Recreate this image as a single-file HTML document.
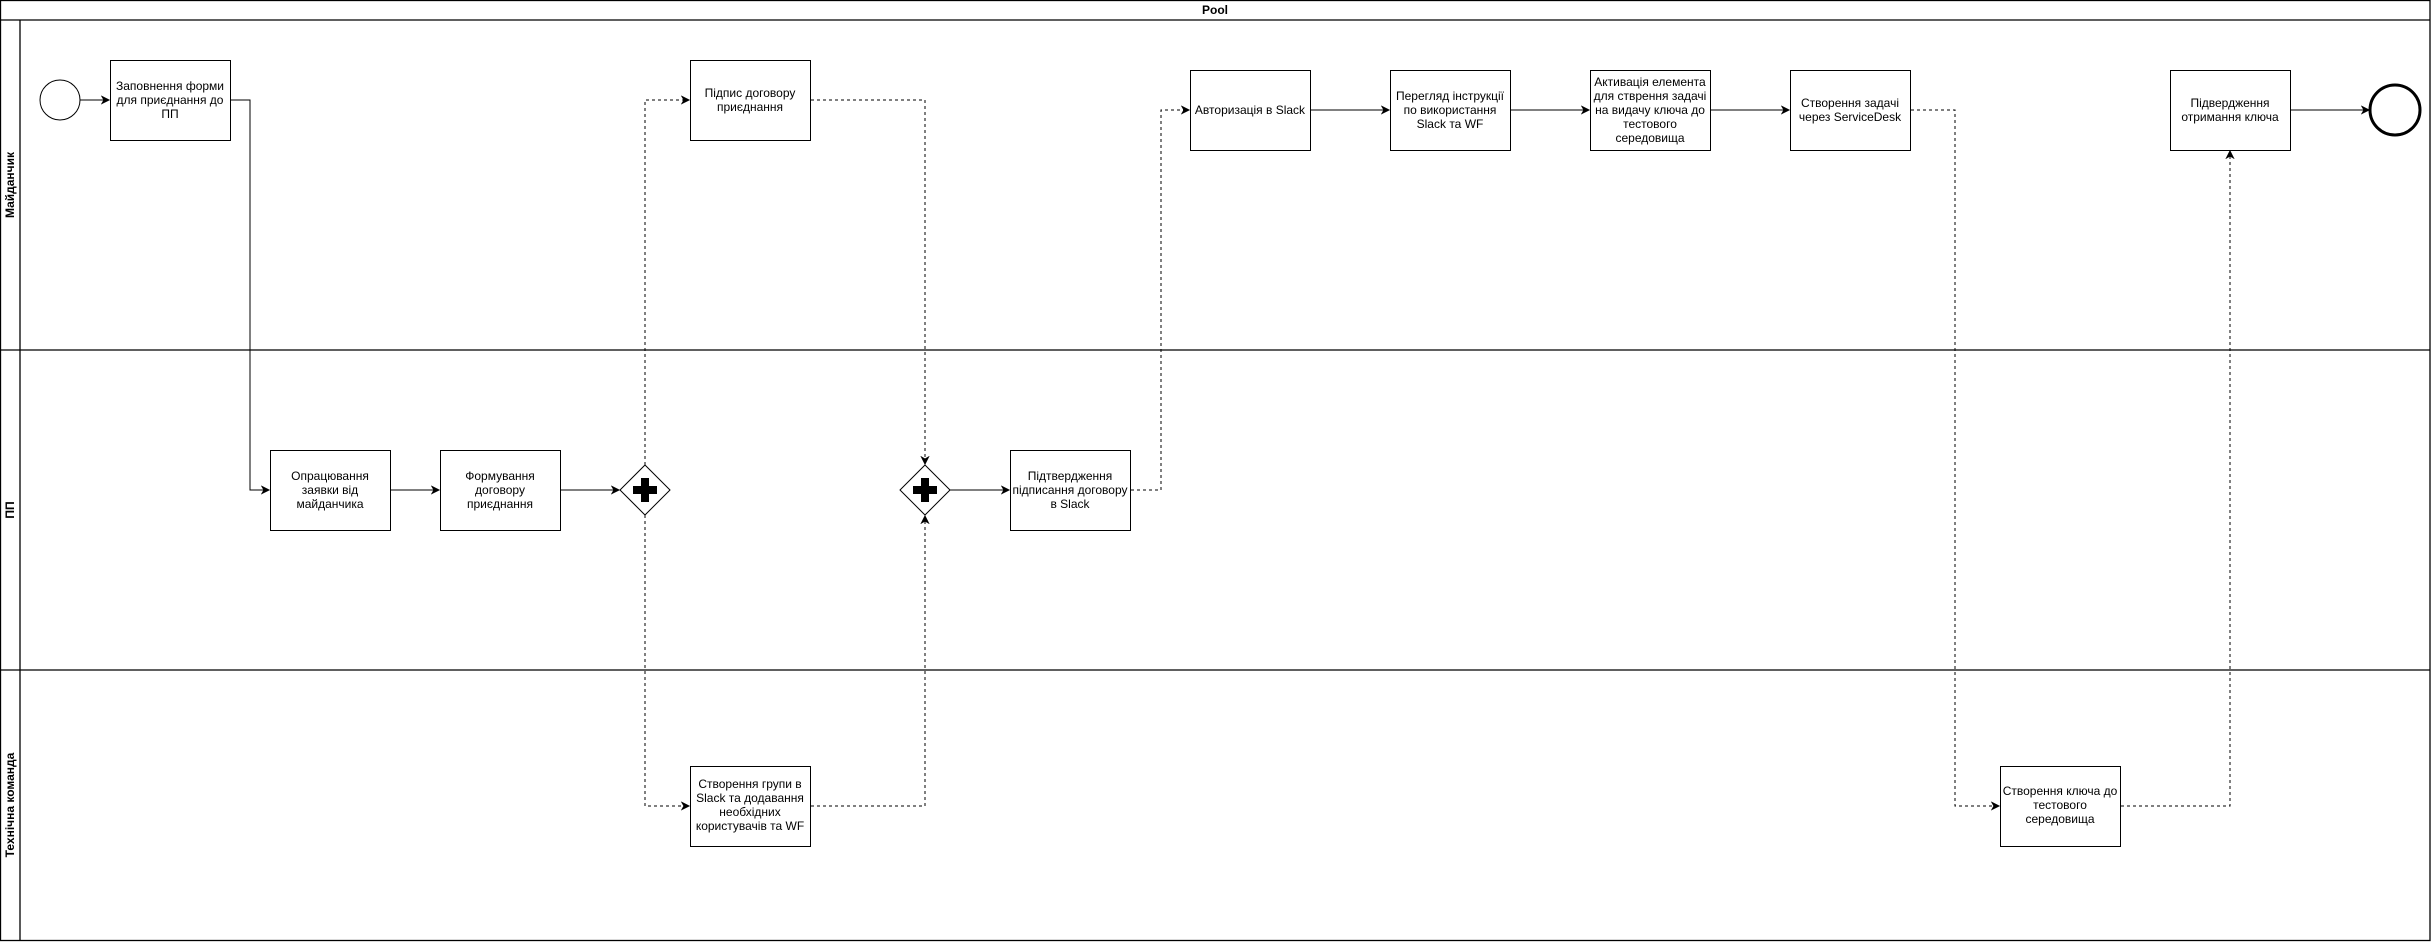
<!DOCTYPE html>
<html><head><meta charset="utf-8"><style>
html,body{margin:0;padding:0;background:#fff;}
svg{display:block;}
text{font-family:"Liberation Sans","Noto Sans CJK SC",sans-serif;font-size:12px;fill:#000;}
</style></head><body>
<svg width="2431" height="942" viewBox="0 0 2431 942" xmlns="http://www.w3.org/2000/svg">
<defs>
<marker id="a" markerWidth="10" markerHeight="10" refX="8" refY="5" orient="auto" markerUnits="userSpaceOnUse">
<path d="M1,1.5 L8,5 L1,8.5 L3,5 Z" fill="#000" stroke="#000" stroke-width="1"/>
</marker>
</defs>
<g fill="none" stroke="#000" stroke-width="1.3">
<rect x="0.5" y="0.5" width="2429.5" height="940"/>
<line x1="0" y1="20" x2="2430" y2="20"/>
<line x1="20" y1="20" x2="20" y2="941"/>
<line x1="0" y1="350" x2="2430" y2="350"/>
<line x1="0" y1="670" x2="2430" y2="670"/>
</g>
<text x="1215" y="14" text-anchor="middle" font-weight="bold">Pool</text>
<text transform="translate(14,185) rotate(-90)" text-anchor="middle" font-weight="bold">Майданчик</text>
<text transform="translate(14,510) rotate(-90)" text-anchor="middle" font-weight="bold">ПП</text>
<text transform="translate(14,805) rotate(-90)" text-anchor="middle" font-weight="bold">Технічна команда</text>

<g fill="#fff" stroke="#000" stroke-width="1">
<circle cx="60" cy="100" r="20"/>
<circle cx="2395" cy="110" r="25" stroke-width="3"/>
<rect x="110.5" y="60.5" width="120" height="80"/>
<rect x="270.5" y="450.5" width="120" height="80"/>
<rect x="440.5" y="450.5" width="120" height="80"/>
<rect x="690.5" y="60.5" width="120" height="80"/>
<rect x="1010.5" y="450.5" width="120" height="80"/>
<rect x="1190.5" y="70.5" width="120" height="80"/>
<rect x="1390.5" y="70.5" width="120" height="80"/>
<rect x="1590.5" y="70.5" width="120" height="80"/>
<rect x="1790.5" y="70.5" width="120" height="80"/>
<rect x="2170.5" y="70.5" width="120" height="80"/>
<rect x="690.5" y="766.5" width="120" height="80"/>
<rect x="2000.5" y="766.5" width="120" height="80"/>
<path d="M645,465 L670,490 L645,515 L620,490 Z"/>
<path d="M925,465 L950,490 L925,515 L900,490 Z"/>
</g>
<g fill="#000">
<rect x="641" y="478" width="8" height="24"/><rect x="633" y="486" width="24" height="8"/>
<rect x="921" y="478" width="8" height="24"/><rect x="913" y="486" width="24" height="8"/>
</g>

<g fill="none" stroke="#000" stroke-width="1">
<path d="M80,100 H109" marker-end="url(#a)"/>
<path d="M231,100 H250 V490 H269" marker-end="url(#a)"/>
<path d="M391,490 H439" marker-end="url(#a)"/>
<path d="M561,490 H619" marker-end="url(#a)"/>
<path d="M950,490 H1009" marker-end="url(#a)"/>
<path d="M1311,110 H1389" marker-end="url(#a)"/>
<path d="M1511,110 H1589" marker-end="url(#a)"/>
<path d="M1711,110 H1789" marker-end="url(#a)"/>
<path d="M2291,110 H2369" marker-end="url(#a)"/>
</g>
<g fill="none" stroke="#000" stroke-width="1" stroke-dasharray="3 3">
<path d="M645,465 V100 H689" marker-end="url(#a)"/>
<path d="M811,100 H925 V464" marker-end="url(#a)"/>
<path d="M645,515 V806 H689" marker-end="url(#a)"/>
<path d="M811,806 H925 V516" marker-end="url(#a)"/>
<path d="M1131,490 H1161 V110 H1189" marker-end="url(#a)"/>
<path d="M1911,110 H1955 V806 H1999" marker-end="url(#a)"/>
<path d="M2121,806 H2230 V151" marker-end="url(#a)"/>
</g>

<g text-anchor="middle">
<text x="170" y="90">Заповнення форми</text>
<text x="170" y="104">для приєднання до</text>
<text x="170" y="118">ПП</text>
<text x="330" y="480">Опрацювання</text>
<text x="330" y="494">заявки від</text>
<text x="330" y="508">майданчика</text>
<text x="500" y="480">Формування</text>
<text x="500" y="494">договору</text>
<text x="500" y="508">приєднання</text>
<text x="750" y="97">Підпис договору</text>
<text x="750" y="111">приєднання</text>
<text x="1070" y="480">Підтвердження</text>
<text x="1070" y="494">підписання договору</text>
<text x="1070" y="508">в Slack</text>
<text x="1250" y="114">Авторизація в Slack</text>
<text x="1450" y="100">Перегляд інструкції</text>
<text x="1450" y="114">по використання</text>
<text x="1450" y="128">Slack та WF</text>
<text x="1650" y="86">Активація елемента</text>
<text x="1650" y="100">для стврення задачі</text>
<text x="1650" y="114">на видачу ключа до</text>
<text x="1650" y="128">тестового</text>
<text x="1650" y="142">середовища</text>
<text x="1850" y="107">Створення задачі</text>
<text x="1850" y="121">через ServiceDesk</text>
<text x="2230" y="107">Підвердження</text>
<text x="2230" y="121">отримання ключа</text>
<text x="750" y="788">Створення групи в</text>
<text x="750" y="802">Slack та додавання</text>
<text x="750" y="816">необхідних</text>
<text x="750" y="830">користувачів та WF</text>
<text x="2060" y="795">Створення ключа до</text>
<text x="2060" y="809">тестового</text>
<text x="2060" y="823">середовища</text>
</g>
</svg>
</body></html>
